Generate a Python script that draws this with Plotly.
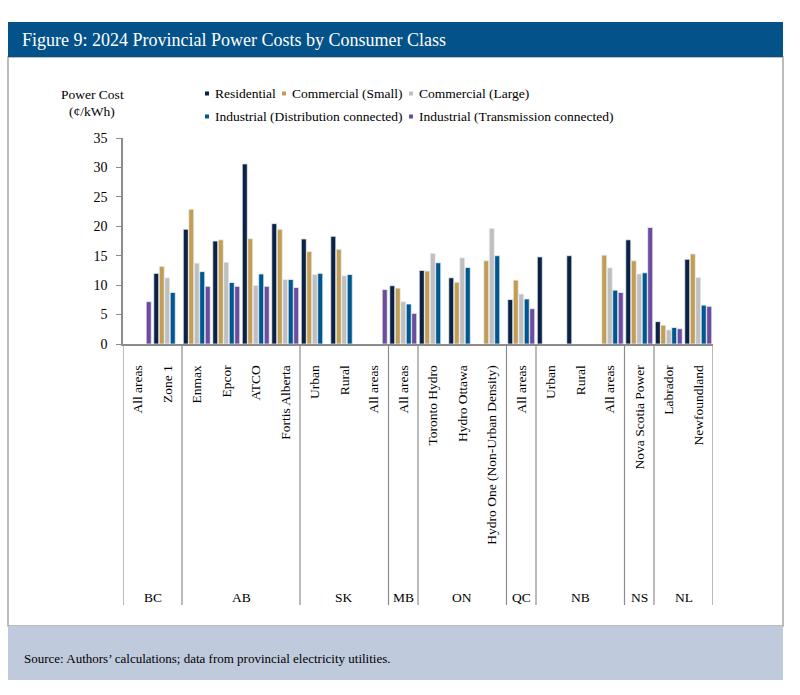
import plotly.graph_objects as go

# ---------------- data ----------------
categories = ["All areas", "Zone 1", "Enmax", "Epcor", "ATCO", "Fortis Alberta",
              "Urban", "Rural", "All areas", "All areas", "Toronto Hydro", "Hydro Ottawa",
              "Hydro One (Non-Urban Density)", "All areas", "Urban", "Rural", "All areas",
              "Nova Scotia Power", "Labrador", "Newfoundland"]
provinces = ["BC", "AB", "SK", "MB", "ON", "QC", "NB", "NS", "NL"]
province_sizes = [2, 4, 3, 1, 3, 1, 3, 1, 2]

series_names = ["Residential", "Commercial (Small)", "Commercial (Large)",
                "Industrial (Distribution connected)", "Industrial (Transmission connected)"]
residential = [None, 12.0, 19.5, 17.5, 30.6, 20.45, 17.85, 18.3, None, 9.9,
               12.5, 11.25, None, 7.55, 14.8, 15.0, None, 17.7, 3.8, 14.4]
comm_small = [None, 13.2, 22.9, 17.7, 17.9, 19.5, 15.7, 16.1, None, 9.5,
              12.4, 10.5, 14.15, 10.85, None, None, 15.1, 14.15, 3.2, 15.3]
comm_large = [None, 11.25, 13.75, 13.9, 9.95, 10.95, 11.8, 11.6, None, 7.2,
              15.4, 14.65, 19.65, 8.5, None, None, 12.95, 11.9, 2.4, 11.3]
ind_dist = [None, 8.75, 12.3, 10.45, 11.9, 10.95, 12.0, 11.8, None, 6.8,
            13.8, 13.0, 15.0, 7.65, None, None, 9.15, 12.1, 2.8, 6.6]
ind_trans = [7.2, None, 9.8, 9.8, 9.8, 9.6, None, None, 9.25, 5.2,
             None, None, None, 6.0, None, None, 8.75, 19.8, 2.6, 6.4]
y_ticks = [0, 5, 10, 15, 20, 25, 30, 35]

colors = ["#0B2245", "#C29D55", "#BFBFBF", "#00568F", "#6B4C9E"]
series = [residential, comm_small, comm_large, ind_dist, ind_trans]

FONT = "Liberation Serif, Times New Roman, serif"
W, H = 800, 695
L, R, T, B = 123, 713, 138, 344


def px_x(x):
    return (x - L) / (R - L)


def px_y(y):
    return (B - y) / (B - T)


fig = go.Figure()
xs = list(range(len(categories)))
for name, vals, col in zip(series_names, series, colors):
    fig.add_trace(go.Bar(x=xs, y=vals, name=name, marker_color=col,
                         marker_line_color="#EEF0F4", marker_line_width=0.8,
                         showlegend=False))

shapes = []
annotations = []

# frame: title bar, white box, footer
shapes.append(dict(type="rect", xref="paper", yref="paper", layer="below",
                   x0=px_x(8), x1=px_x(783), y0=px_y(57), y1=px_y(626),
                   fillcolor="white", line=dict(color="#A6A6A6", width=1.5)))
shapes.append(dict(type="rect", xref="paper", yref="paper", layer="below",
                   x0=px_x(8), x1=px_x(783), y0=px_y(22), y1=px_y(57),
                   fillcolor="#03528A", line=dict(width=0)))
shapes.append(dict(type="rect", xref="paper", yref="paper", layer="below",
                   x0=px_x(8), x1=px_x(783), y0=px_y(626), y1=px_y(680),
                   fillcolor="#BFCADC", line=dict(width=0)))

annotations.append(dict(text="Figure 9: 2024 Provincial Power Costs by Consumer Class",
                        xref="paper", yref="paper", x=px_x(20), y=px_y(39.5),
                        xanchor="left", yanchor="middle", showarrow=False,
                        font=dict(family=FONT, size=18, color="white")))
annotations.append(dict(text="Source: Authors’ calculations; data from provincial electricity utilities.",
                        xref="paper", yref="paper", x=px_x(22), y=px_y(658),
                        xanchor="left", yanchor="middle", showarrow=False,
                        font=dict(family=FONT, size=13, color="black")))

# y-axis title
annotations.append(dict(text="Power Cost", xref="paper", yref="paper", x=px_x(92), y=px_y(94),
                        xanchor="center", yanchor="middle", showarrow=False,
                        font=dict(family=FONT, size=13.5, color="black")))
annotations.append(dict(text="(¢/kWh)", xref="paper", yref="paper", x=px_x(92), y=px_y(111),
                        xanchor="center", yanchor="middle", showarrow=False,
                        font=dict(family=FONT, size=13.5, color="black")))

# legend (drawn manually)
legend_pos = [(207, 93), (284, 93), (411, 93), (207, 116), (411, 116)]
for (lx, ly), name, col in zip(legend_pos, series_names, colors):
    shapes.append(dict(type="rect", xref="paper", yref="paper",
                       x0=px_x(lx - 2), x1=px_x(lx + 2), y0=px_y(ly + 2.5), y1=px_y(ly - 1.5),
                       fillcolor=col, line=dict(width=0)))
    annotations.append(dict(text=name, xref="paper", yref="paper", x=px_x(lx + 6), y=px_y(ly),
                            xanchor="left", yanchor="middle", showarrow=False,
                            font=dict(family=FONT, size=13.5, color="black")))

# province separators and labels
start = 0
bounds = [-0.5]
for prov, n in zip(provinces, province_sizes):
    end = start + n
    bounds.append(end - 0.5)
    annotations.append(dict(text=prov, xref="x", yref="paper", x=(start + end - 1) / 2,
                            y=px_y(597), xanchor="center", yanchor="middle", showarrow=False,
                            font=dict(family=FONT, size=13.5, color="black")))
    start = end
for bx in bounds:
    shapes.append(dict(type="line", xref="x", yref="paper", x0=bx, x1=bx,
                       y0=0, y1=px_y(605), line=dict(color="#8C8C8C", width=1.2)))

fig.update_layout(
    width=W, height=H,
    margin=dict(l=L, r=W - R, t=T, b=H - B, pad=0, autoexpand=False),
    paper_bgcolor="white", plot_bgcolor="rgba(0,0,0,0)",
    barmode="group", bargap=0.07, bargroupgap=0.08,
    font=dict(family=FONT, color="black"),
    showlegend=False,
    shapes=shapes, annotations=annotations,
    xaxis=dict(range=[-0.5, len(categories) - 0.5], tickmode="array", tickvals=xs,
               ticktext=categories, tickangle=-90, showgrid=False, zeroline=False,
               showline=True, linecolor="#8C8C8C", linewidth=1.5, ticks="",
               tickfont=dict(family=FONT, size=13.5, color="black"), ticklabelstandoff=14),
    yaxis=dict(range=[0, 35], tickmode="array", tickvals=y_ticks, showgrid=False,
               zeroline=False, showline=True, linecolor="#8C8C8C", linewidth=1.5,
               ticks="outside", ticklen=5, tickcolor="#8C8C8C",
               tickfont=dict(family=FONT, size=14, color="black"), ticklabelstandoff=6),
)

fig.write_html("out.html")
